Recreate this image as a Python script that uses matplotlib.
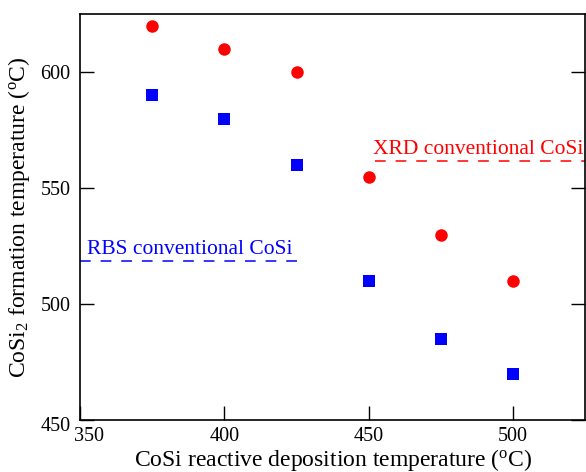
import matplotlib
matplotlib.use("Agg")
import matplotlib.pyplot as plt
from matplotlib.transforms import ScaledTranslation

plt.rcParams['font.family'] = ['Liberation Serif', 'DejaVu Serif']
plt.rcParams['mathtext.fontset'] = 'custom'
plt.rcParams['mathtext.rm'] = 'Liberation Serif'
plt.rcParams['mathtext.it'] = 'Liberation Serif:italic'

# deposition temperatures (C)
dep_temp = [375, 400, 425, 450, 475, 500]
# CoSi2 formation temperature from XRD (red) and RBS (blue)
xrd_temp = [620, 610, 600, 555, 530, 510]
rbs_temp = [590, 580, 560, 510, 485, 470]

# conventional CoSi reference levels
xrd_conv = 561.5
rbs_conv = 518.5


def drawer():
    fig = plt.figure(figsize=(5.86, 4.72), dpi=100)
    ax = fig.add_axes([0.1365, 0.110, 0.8625, 0.860])

    ax.plot(dep_temp, xrd_temp, 'o', color='#ff0000', markersize=9, markeredgewidth=0)
    ax.plot(dep_temp, rbs_temp, 's', color='#0000ff', markersize=8.5, markeredgewidth=0)

    ax.plot([452, 525], [xrd_conv, xrd_conv], color='#ff0000', lw=1.1, dashes=(7, 6.5))
    ax.plot([350, 428], [rbs_conv, rbs_conv], color='#0000ff', lw=1.1, dashes=(7, 6.5))
    ax.text(451.5, xrd_conv + 3, 'XRD conventional CoSi', color='#ff0000', fontsize=15.5)
    ax.text(352.5, rbs_conv + 3, 'RBS conventional CoSi', color='#0000ff', fontsize=15.5)

    ax.set_xlim(350, 525)
    ax.set_ylim(450, 625)
    ax.set_xticks([350, 400, 450, 500])
    ax.set_yticks([450, 500, 550, 600])
    ax.tick_params(direction='in', length=10, width=1, labelsize=14.5,
                   top=False, right=True)
    ax.tick_params(axis='x', pad=5)
    ax.tick_params(axis='y', pad=7)
    # nudge the first x label away from the corner
    first = ax.get_xticklabels()[0]
    first.set_transform(first.get_transform() + ScaledTranslation(0.09, 0, fig.dpi_scale_trans))
    # nudge the bottom y label down a bit
    low = ax.get_yticklabels()[0]
    low.set_transform(low.get_transform() + ScaledTranslation(0, -0.04, fig.dpi_scale_trans))
    for s in ax.spines.values():
        s.set_linewidth(1.2)

    ax.set_xlabel(r'CoSi reactive deposition temperature ($^{\rm o}$C)', fontsize=17, labelpad=0.5)
    ax.set_ylabel(r'CoSi$_2$ formation temperature ($^{\rm o}$C)', fontsize=17, labelpad=6)

    fig.savefig('out.png', dpi=100)


if __name__ == "__main__":
    drawer()
